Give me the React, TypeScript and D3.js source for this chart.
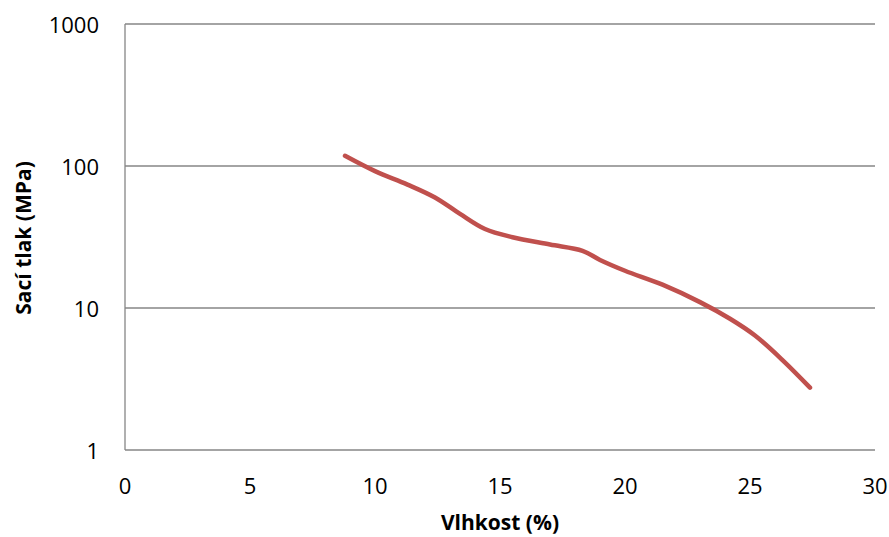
import React from "react";
import * as d3 from "d3";

const moisture = [8.8, 10, 11.3, 12.4, 13.4, 14.4, 15.5, 17, 18.3, 19, 20, 21.5, 23, 24.2, 25.2, 26.3, 27.4];
const suction = [118, 92, 74, 60, 46, 36, 31.5, 28, 25.3, 21.8, 18.3, 14.6, 11, 8.4, 6.4, 4.3, 2.75];
const xTicks = [0, 5, 10, 15, 20, 25, 30];
const yTicks = [1, 10, 100, 1000];

const W = 889;
const H = 537;
const left = 125;
const right = 875;
const top = 24;
const bottom = 450;

export default function App() {
  const x = d3.scaleLinear().domain([0, 30]).range([left, right]);
  const y = d3.scaleLog().domain([1, 1000]).range([bottom, top]);
  const pts: [number, number][] = moisture.map((m, i) => [m, suction[i]]);
  const line = d3
    .line<[number, number]>()
    .x((d) => x(d[0]))
    .y((d) => y(d[1]))
    .curve(d3.curveCatmullRom.alpha(0.5));
  const font = "'Open Sans', 'Liberation Sans', sans-serif";
  return (
    <svg
      width={W}
      height={H}
      style={{ position: "absolute", left: 0, top: 0, background: "#fff" }}
      fontFamily={font}
    >
      <rect x={0} y={0} width={W} height={H} fill="#fff" />
      {yTicks.map((t) => (
        <g key={t}>
          {t !== 1 && (
            <line x1={left} x2={right} y1={y(t)} y2={y(t)} stroke="#868686" strokeWidth={1.3} />
          )}
          <text x={99} y={y(t)} textAnchor="end" dominantBaseline="central" fontSize={22} fill="#000">
            {t}
          </text>
        </g>
      ))}
      <line x1={left} x2={left} y1={top} y2={bottom} stroke="#868686" strokeWidth={1.3} />
      <line x1={left} x2={right} y1={bottom} y2={bottom} stroke="#868686" strokeWidth={1.3} />
      {xTicks.map((t) => (
        <text key={t} x={x(t)} y={485} textAnchor="middle" dominantBaseline="central" fontSize={22} fill="#000">
          {t}
        </text>
      ))}
      <path d={line(pts) || ""} fill="none" stroke="#C0504D" strokeWidth={4.5} strokeLinecap="round" strokeLinejoin="round" />
      <text x={500} y={522} textAnchor="middle" dominantBaseline="central" fontSize={21} fontWeight="bold" fill="#000">
        Vlhkost (%)
      </text>
      <text
        transform={`translate(23,238) rotate(-90)`}
        textAnchor="middle"
        dominantBaseline="central"
        fontSize={21}
        fontWeight="bold"
        fill="#000"
      >
        Sací tlak (MPa)
      </text>
    </svg>
  );
}
